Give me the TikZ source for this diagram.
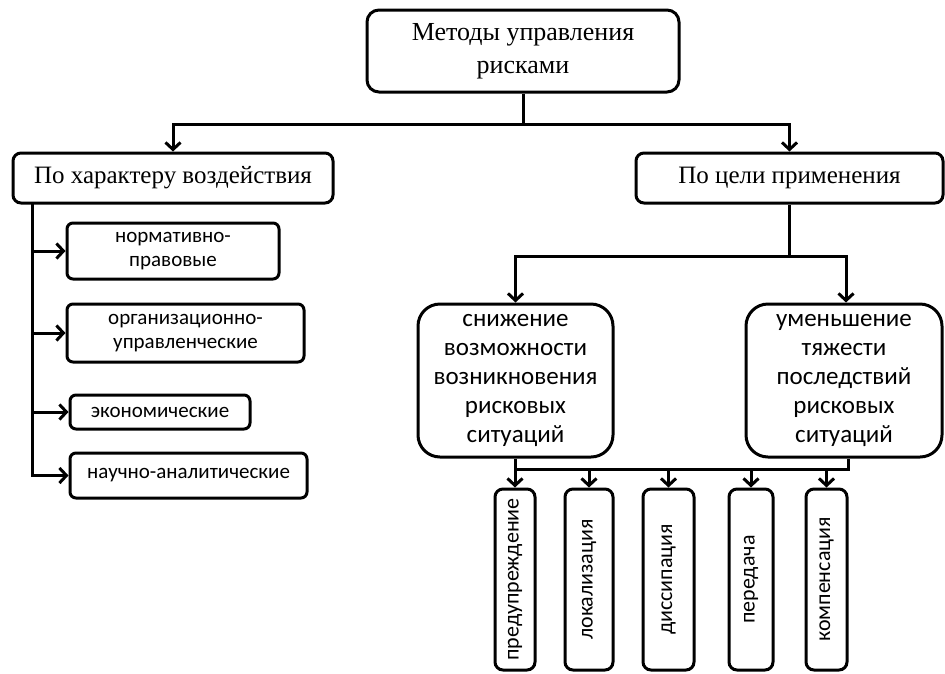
\documentclass[tikz,border=0pt]{standalone}
\usepackage{fontspec}
\setmainfont{Liberation Serif}
\newfontfamily\calib{Carlito}
\usetikzlibrary{positioning, arrows.meta}

\begin{document}
\begin{tikzpicture}[x=1pt, y=-1pt, line width=3pt, >={Straight Barb[length=7pt,width=15pt]},
    box/.style={draw, rounded corners=8pt, align=center, inner sep=0pt},
    kind/.style={box, rounded corners=6pt, font=\fontsize{21}{24}\selectfont\calib},
    goal/.style={box, rounded corners=22pt, minimum width=195pt, minimum height=153pt, font=\fontsize{25}{29}\selectfont\calib},
    way/.style={box, rotate=90, minimum width=181pt, font=\fontsize{22}{25}\selectfont\calib}]

    \useasboundingbox (0,0) rectangle (945,673);

    % Define the boxes (nodes)
    \node[box, rounded corners=12pt, minimum width=312pt, minimum height=82pt, font=\fontsize{26}{33}\selectfont] (root) at (523,51) {Методы управления\\рисками}; % top box
    \node[box, minimum width=320pt, minimum height=50pt, font=\fontsize{25}{28}\selectfont] (byact) at (173,178) {По характеру воздействия};
    \node[box, minimum width=307pt, minimum height=50pt, font=\fontsize{25}{28}\selectfont] (byaim) at (789.5,178) {По цели применения};
    % left column
    \node[kind, minimum width=212pt, minimum height=56pt] (norm) at (173,251) {нормативно-\\правовые};
    \node[kind, minimum width=237pt, minimum height=58pt] (org) at (185.5,333) {организационно-\\управленческие};
    \node[kind, minimum width=180pt, minimum height=34pt] (econ) at (160,412) {экономические};
    \node[kind, minimum width=237pt, minimum height=45pt] (sci) at (188.5,475.5) {научно-аналитические};
    % right column
    \node[goal] (lower) at (515.5,380.5) {снижение\\возможности\\возникновения\\рисковых\\ситуаций};
    \node[goal, minimum width=196pt] (soften) at (844,380.5) {уменьшение\\тяжести\\последствий\\рисковых\\ситуаций};
    \node[way, minimum height=40pt] (warn) at (515,579.5) {предупреждение};
    \node[way, minimum height=48pt] (local) at (589,579.5) {локализация};
    \node[way, minimum height=51pt] (dissip) at (668.5,579.5) {диссипация};
    \node[way, minimum height=44pt] (pass) at (751,579.5) {передача};
    \node[way, minimum height=41pt] (comp) at (826.5,579.5) {компенсация};

    % Define the connectors
    \draw (root.south) -- ++(0,31) coordinate (hub);
    \draw[->] (hub) -| (byact.north);
    \draw[->] (hub) -| (byaim.north);

    \coordinate (trunk) at (32,203); % left trunk under the box
    \draw[->] (trunk) |- (sci.west);
    \foreach \n in {norm, org, econ}
        \draw[->] (trunk |- \n.west) -- (\n.west);

    \draw (byaim.south) -- ++(0,52) coordinate (fork);
    \draw[->] (fork) -| (lower.north);
    \draw[->] (fork) -| ([xshift=2pt]soften.north);

    \coordinate (bus) at (0,469); % line under the two boxes
    \draw (lower.south) -- (lower.south |- bus) -- ([xshift=4pt]soften.south |- bus) -- ([xshift=4pt]soften.south);
    \foreach \n in {warn, local, dissip, pass, comp}
        \draw[->] (\n.east |- bus) -- (\n.east);
\end{tikzpicture}
\end{document}
